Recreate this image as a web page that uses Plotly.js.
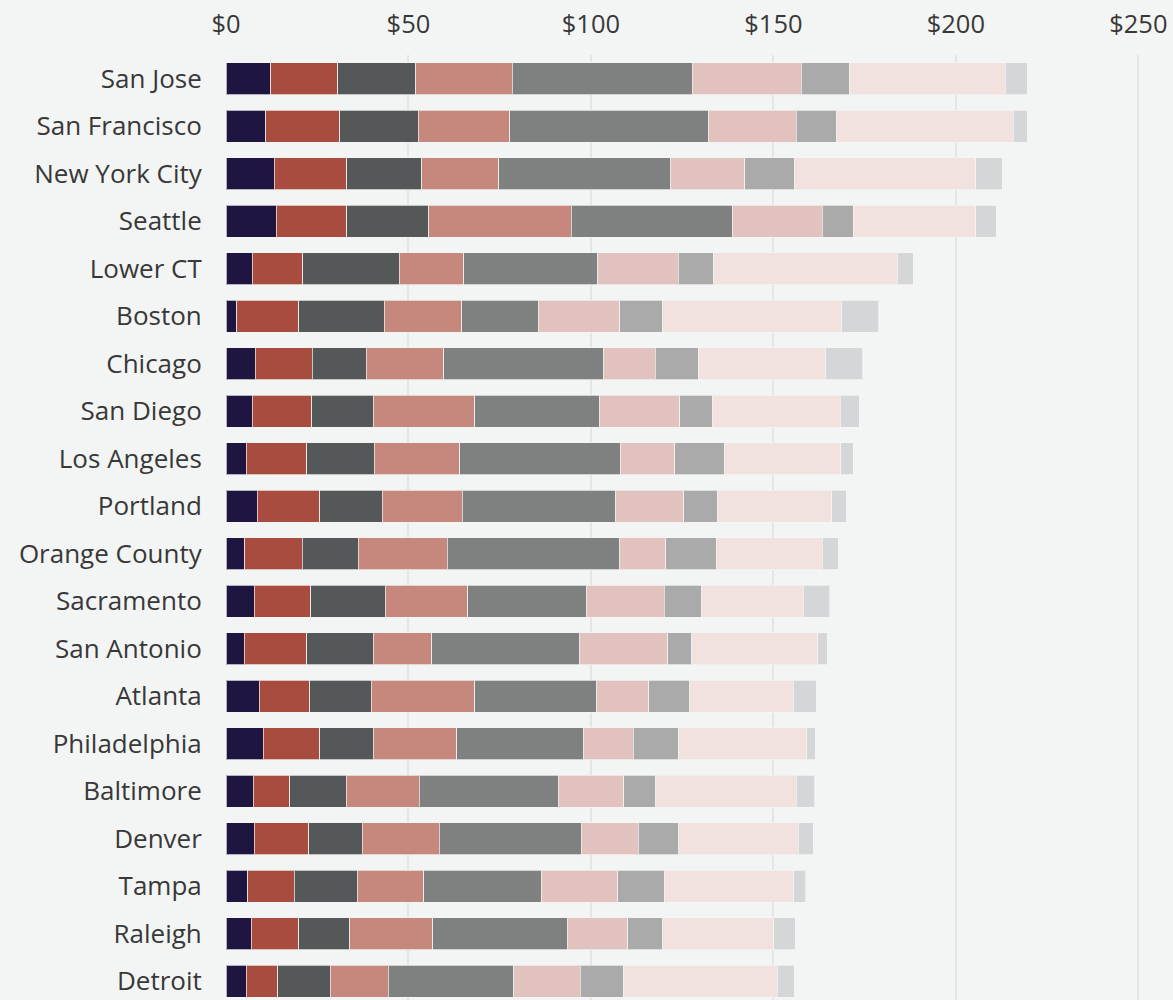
<!DOCTYPE html>
<html>
<head>
<meta charset="utf-8">
<script src="https://cdn.plot.ly/plotly-3.0.1.min.js"></script>
<style>
  html, body { margin: 0; padding: 0; background: #f3f5f4; }
  #chart { width: 1173px; height: 1000px; }
</style>
</head>
<body>
<div id="chart"></div>
<script>
const cities = ["San Jose","San Francisco","New York City","Seattle","Lower CT","Boston","Chicago","San Diego","Los Angeles","Portland","Orange County","Sacramento","San Antonio","Atlanta","Philadelphia","Baltimore","Denver","Tampa","Raleigh","Detroit"];

const seg1 = [12.2,10.9,13.2,13.8,7.2,2.9,8.0,7.2,5.6,8.6,5.2,7.8,5.0,9.1,10.2,7.5,7.8,5.9,6.9,5.6];
const seg2 = [18.4,20.3,19.9,19.3,13.8,17.0,15.7,16.3,16.5,17.1,15.7,15.4,17.1,13.9,15.5,10.0,14.9,12.8,13.0,8.6];
const seg3 = [21.4,21.5,20.5,22.5,26.5,23.5,14.7,16.9,18.5,17.1,15.4,20.5,18.3,16.8,14.7,15.4,14.6,17.3,14.0,14.3];
const seg4 = [26.4,25.1,21.2,39.0,17.7,21.2,21.3,27.8,23.5,21.9,24.3,22.6,16.0,28.4,22.8,20.1,21.1,18.2,22.8,15.9];
const seg5 = [49.4,54.5,47.0,44.2,36.7,20.9,43.8,34.1,44.1,42.1,47.3,32.5,40.5,33.4,34.7,38.1,39.0,32.3,36.8,34.4];
const seg6 = [29.8,24.0,20.4,24.6,22.0,22.4,14.1,22.1,14.8,18.7,12.6,21.3,24.1,14.2,13.7,17.9,15.6,20.9,16.6,18.3];
const seg7 = [13.2,11.1,13.6,8.5,9.6,11.8,11.8,8.9,13.5,9.2,13.9,10.2,6.6,11.3,12.3,8.7,11.1,12.7,9.6,11.7];
const seg8 = [42.7,48.3,49.7,33.6,50.4,49.0,35.0,35.0,32.0,31.3,29.0,27.9,34.5,28.3,35.3,38.6,32.7,35.5,30.4,42.2];
const seg9 = [6.0,3.8,7.2,5.5,4.4,10.2,10.1,5.2,3.4,3.9,4.4,7.3,2.6,6.4,2.2,5.0,4.1,3.3,5.9,4.7];

const seriesNames = ["Segment 1","Segment 2","Segment 3","Segment 4","Segment 5","Segment 6","Segment 7","Segment 8","Segment 9"];
const tickVals = [0,50,100,150,200,250];
const tickText = ["$0","$50","$100","$150","$200","$250"];

const colors = ["#1e1641","#a84c40","#555859","#c6877d","#7f8181","#e2c2bf","#a9aaa9","#f1e2e0","#d5d6d7"];
const allSeries = [seg1,seg2,seg3,seg4,seg5,seg6,seg7,seg8,seg9];

const traces = allSeries.map((vals, i) => ({
  type: "bar",
  orientation: "h",
  name: seriesNames[i],
  x: vals,
  y: cities,
  marker: { color: colors[i], line: { color: "rgba(244,245,244,0.7)", width: 1 } },
  hoverinfo: "x+y+name"
}));

const layout = {
  width: 1173,
  height: 1000,
  paper_bgcolor: "#f3f5f4",
  plot_bgcolor: "#f3f5f4",
  barmode: "stack",
  bargap: 0.333,
  showlegend: false,
  margin: { l: 226, r: 0, t: 55, b: 0 },
  font: { family: "'Open Sans', Lato, sans-serif", color: "#383838" },
  xaxis: {
    side: "top",
    range: [0, 259.5],
    tickvals: tickVals,
    ticktext: tickText,
    showgrid: true,
    gridcolor: "#e4e5e4",
    gridwidth: 2,
    zeroline: false,
    showline: false,
    ticks: "outside",
    ticklen: 11,
    tickcolor: "rgba(0,0,0,0)",
    tickfont: { size: 25.5, color: "#383838" },
    fixedrange: true
  },
  yaxis: {
    type: "category",
    range: [19.395, -0.5],
    showgrid: false,
    zeroline: false,
    showline: false,
    ticks: "outside",
    ticklen: 18,
    tickcolor: "rgba(0,0,0,0)",
    tickfont: { size: 26, color: "#383838" },
    fixedrange: true
  }
};

Plotly.newPlot("chart", traces, layout, { displayModeBar: false, staticPlot: true });
</script>
</body>
</html>
